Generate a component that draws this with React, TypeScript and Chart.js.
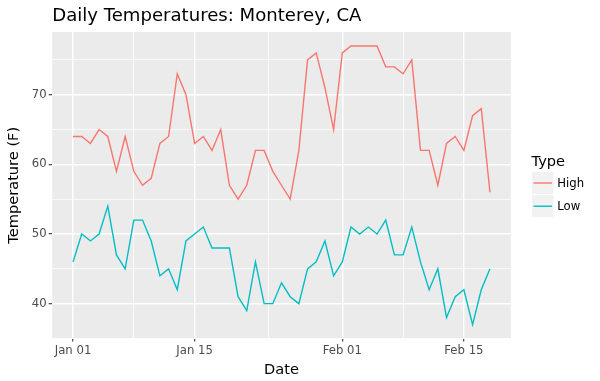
import React, { useEffect, useRef } from "react";
import { Chart, registerables } from "chart.js";

Chart.register(...registerables);

const dates = [
  "2018-01-01", "2018-01-02", "2018-01-03", "2018-01-04", "2018-01-05", "2018-01-06", "2018-01-07",
  "2018-01-08", "2018-01-09", "2018-01-10", "2018-01-11", "2018-01-12", "2018-01-13", "2018-01-14",
  "2018-01-15", "2018-01-16", "2018-01-17", "2018-01-18", "2018-01-19", "2018-01-20", "2018-01-21",
  "2018-01-22", "2018-01-23", "2018-01-24", "2018-01-25", "2018-01-26", "2018-01-27", "2018-01-28",
  "2018-01-29", "2018-01-30", "2018-01-31", "2018-02-01", "2018-02-02", "2018-02-03", "2018-02-04",
  "2018-02-05", "2018-02-06", "2018-02-07", "2018-02-08", "2018-02-09", "2018-02-10", "2018-02-11",
  "2018-02-12", "2018-02-13", "2018-02-14", "2018-02-15", "2018-02-16", "2018-02-17", "2018-02-18",
];

const highTemps = [
  64, 64, 63, 65, 64, 59, 64, 59, 57, 58, 63, 64, 73, 70, 63, 64, 62, 65, 57, 55,
  57, 62, 62, 59, 57, 55, 62, 75, 76, 71, 65, 76, 77, 77, 77, 77, 74, 74, 73, 75,
  62, 62, 57, 63, 64, 62, 67, 68, 56,
];

const lowTemps = [
  46, 50, 49, 50, 54, 47, 45, 52, 52, 49, 44, 45, 42, 49, 50, 51, 48, 48, 48, 41,
  39, 46, 40, 40, 43, 41, 40, 45, 46, 49, 44, 46, 51, 50, 51, 50, 52, 47, 47, 51,
  46, 42, 45, 38, 41, 42, 37, 42, 45,
];

const seriesNames = ["High", "Low"];
const seriesColors = ["#F8766D", "#00BFC4"];

const xTickDates = ["2018-01-01", "2018-01-15", "2018-02-01", "2018-02-15"];
const xTickLabels = ["Jan 01", "Jan 15", "Feb 01", "Feb 15"];
const yTicks = [40, 50, 60, 70];

const titleText = "Daily Temperatures: Monterey, CA";
const xTitle = "Date";
const yTitle = "Temperature (F)";
const legendTitle = "Type";

const FONT = "'DejaVu Sans', 'Noto Sans', sans-serif";
const DAY = 86400000;
const dayOf = (d: string) => (Date.parse(d) - Date.parse(dates[0])) / DAY;

export default function App() {
  const ref = useRef<HTMLCanvasElement>(null);

  useEffect(() => {
    document.body.style.margin = "0";
    const canvas = ref.current!;
    const xs = dates.map(dayOf);
    const xMajor = xTickDates.map(dayOf);
    const xMinor = xMajor.slice(1).map((v, i) => (v + xMajor[i]) / 2);
    const yMinor = yTicks.map((v) => v + 5).concat([yTicks[0] - 5]);

    const allY = highTemps.concat(lowTemps);
    const yLo = Math.min(...allY);
    const yHi = Math.max(...allY);
    const yPad = (yHi - yLo) * 0.05;
    const xLo = Math.min(...xs);
    const xHi = Math.max(...xs);
    const xPad = (xHi - xLo) * 0.05;

    const isMajorX = (v: number) => xMajor.some((m) => Math.abs(m - v) < 1e-6);
    const isMajorY = (v: number) => yTicks.includes(v);

    const decor = {
      id: "decor",
      beforeDraw(chart: any) {
        const { ctx, chartArea: a } = chart;
        ctx.save();
        ctx.fillStyle = "#FFFFFF";
        ctx.fillRect(0, 0, chart.width, chart.height);
        ctx.fillStyle = "#EBEBEB";
        ctx.fillRect(a.left, a.top, a.right - a.left, a.bottom - a.top);
        ctx.restore();
      },
      afterDraw(chart: any) {
        const { ctx, chartArea: a } = chart;
        ctx.save();
        // title
        ctx.fillStyle = "#000000";
        ctx.font = `18.1px ${FONT}`;
        ctx.textAlign = "left";
        ctx.textBaseline = "alphabetic";
        ctx.fillText(titleText, a.left, 21.2);
        // x title
        ctx.font = `14.6px ${FONT}`;
        ctx.textAlign = "center";
        ctx.fillText(xTitle, (a.left + a.right) / 2, 374);
        // y title
        ctx.save();
        ctx.translate(18, (a.top + a.bottom) / 2);
        ctx.rotate(-Math.PI / 2);
        ctx.fillText(yTitle, 0, 0);
        ctx.restore();
        // legend
        ctx.textAlign = "left";
        ctx.font = `14.6px ${FONT}`;
        ctx.fillText(legendTitle, 531.5, 165.7);
        const keyX = 532;
        const keyW = 21.5;
        const keyH = 22;
        seriesNames.forEach((name, i) => {
          const ky = 172 + i * 23.2;
          ctx.fillStyle = "#F2F2F2";
          ctx.fillRect(keyX, ky, keyW, keyH);
          ctx.strokeStyle = seriesColors[i];
          ctx.lineWidth = 1.4;
          ctx.beginPath();
          ctx.moveTo(keyX + 1.5, ky + keyH / 2);
          ctx.lineTo(keyX + keyW - 1.5, ky + keyH / 2);
          ctx.stroke();
          ctx.fillStyle = "#000000";
          ctx.font = `11.7px ${FONT}`;
          ctx.textBaseline = "middle";
          ctx.fillText(name, 557.3, ky + keyH / 2 + 0.5);
        });
        ctx.restore();
      },
    };

    const chart = new Chart(canvas, {
      type: "line",
      data: {
        datasets: [highTemps, lowTemps].map((vals, i) => ({
          label: seriesNames[i],
          data: vals.map((v, j) => ({ x: xs[j], y: v })),
          borderColor: seriesColors[i],
          backgroundColor: seriesColors[i],
          borderWidth: 1.4,
          pointRadius: 0,
          tension: 0,
          fill: false,
        })),
      },
      options: {
        responsive: false,
        animation: false,
        events: [],
        layout: { padding: { top: 32, right: 89.2, left: 0, bottom: 0 } },
        plugins: {
          legend: { display: false },
          title: { display: false },
          tooltip: { enabled: false },
        },
        scales: {
          x: {
            type: "linear",
            min: xLo - xPad,
            max: xHi + xPad,
            afterFit: (s: any) => {
              s.height = 42.5;
            },
            afterBuildTicks: (s: any) => {
              s.ticks = xMajor.concat(xMinor).sort((a, b) => a - b).map((v) => ({ value: v }));
            },
            border: { display: false },
            grid: {
              color: "#FFFFFF",
              lineWidth: (c: any) => (c.tick && isMajorX(c.tick.value) ? 1.4 : 0.7),
              tickColor: (c: any) => (c.tick && isMajorX(c.tick.value) ? "#333333" : "rgba(0,0,0,0)"),
              tickWidth: 1.1,
              tickLength: 3,
              drawTicks: true,
            },
            ticks: {
              autoSkip: false,
              maxRotation: 0,
              padding: 2.5,
              color: "#4D4D4D",
              font: { family: FONT, size: 11.7 },
              callback: (v: any) => {
                const idx = xMajor.findIndex((m) => Math.abs(m - Number(v)) < 1e-6);
                return idx >= 0 ? xTickLabels[idx] : "";
              },
            },
          },
          y: {
            type: "linear",
            min: yLo - yPad,
            max: yHi + yPad,
            afterFit: (s: any) => {
              s.width = 52.2;
            },
            afterBuildTicks: (s: any) => {
              s.ticks = yTicks.concat(yMinor).sort((a, b) => a - b).map((v) => ({ value: v }));
            },
            border: { display: false },
            grid: {
              color: "#FFFFFF",
              lineWidth: (c: any) => (c.tick && isMajorY(c.tick.value) ? 1.4 : 0.7),
              tickColor: (c: any) => (c.tick && isMajorY(c.tick.value) ? "#333333" : "rgba(0,0,0,0)"),
              tickWidth: 1.1,
              tickLength: 3.5,
              drawTicks: true,
            },
            ticks: {
              autoSkip: false,
              padding: 2,
              color: "#4D4D4D",
              font: { family: FONT, size: 11.7 },
              callback: (v: any) => (isMajorY(Number(v)) ? String(v) : ""),
            },
          },
        },
      },
      plugins: [decor],
    });

    return () => chart.destroy();
  }, []);

  return (
    <div style={{ width: 600, height: 381 }}>
      <canvas ref={ref} width={600} height={381} style={{ display: "block" }} />
    </div>
  );
}
